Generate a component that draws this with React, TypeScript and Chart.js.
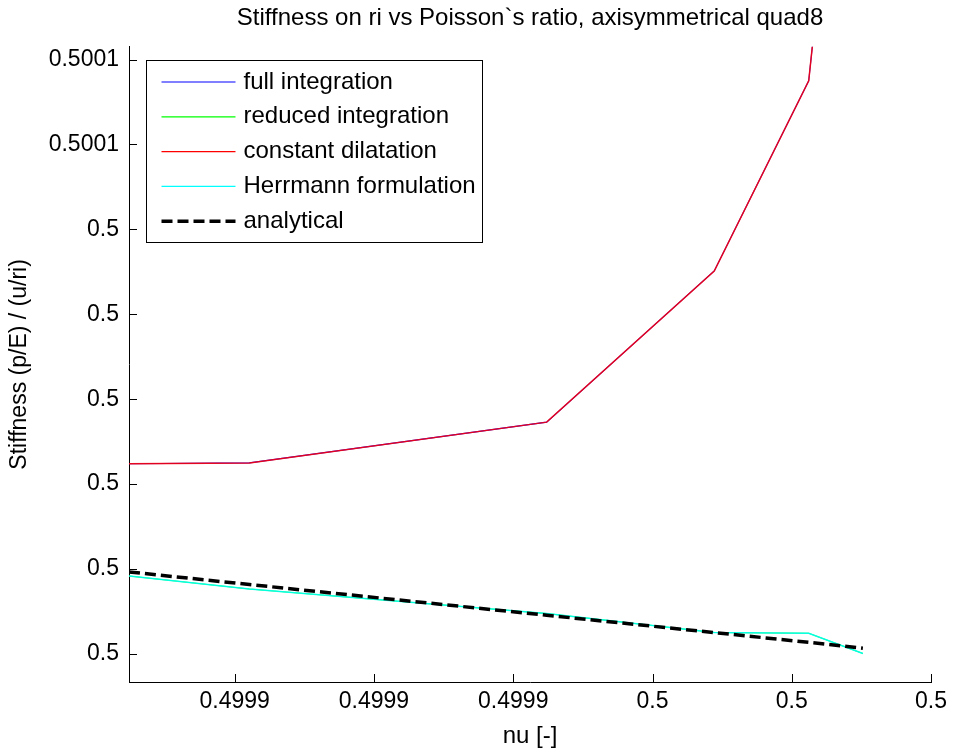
import React, { useEffect, useRef } from "react";
import { Chart, registerables } from "chart.js";

Chart.register(...registerables);

// ---- data ----
const nu = [0.499884814, 0.499902106, 0.4999448, 0.499968868, 0.499982436, 0.499990215];
const fullIntegration = [0.5000124, 0.5000125, 0.5000173, 0.5000351, 0.5000575, 0.5001179];
const reducedIntegration = [0.49999918, 0.49999765, 0.49999477, 0.49999253, 0.49999244, 0.49999006];
const constantDilatation = [0.5000124, 0.5000125, 0.5000173, 0.5000351, 0.5000575, 0.5001179];
const herrmann = [0.49999918, 0.49999765, 0.49999477, 0.49999253, 0.49999244, 0.49999006];
const analytical = [0.49999966, 0.49999818, 0.49999456, 0.49999252, 0.49999137, 0.49999067];

const seriesNames = [
  "full integration",
  "reduced integration",
  "constant dilatation",
  "Herrmann formulation",
  "analytical",
];
const seriesValues = [fullIntegration, reducedIntegration, constantDilatation, herrmann, analytical];
const legendColors = ["#0000ff", "#00ff00", "#ff0000", "#00ffff", "#000000"];
const lineColors = ["#0000ff", "#00ff00", "rgba(255,0,0,0.88)", "rgba(0,255,255,0.85)", "#000000"];

const xTickValues = [0.4999, 0.49992, 0.49994, 0.49996, 0.49998, 0.5];
const xTickLabels = ["0.4999", "0.4999", "0.4999", "0.5", "0.5", "0.5"];
const yTickValues = [0.49999, 0.5, 0.50001, 0.50002, 0.50003, 0.50004, 0.50005, 0.50006];
const yTickLabels = ["0.5", "0.5", "0.5", "0.5", "0.5", "0.5", "0.5001", "0.5001"];
const xMin = 0.499884814;
const xMax = 0.5;
const yMin = 0.4999867;
const yMax = 0.5000615;

const FONT = '"Liberation Sans", Arial, Helvetica, sans-serif';
const DASH = [11, 5];

const inwardTicks = {
  id: "inwardTicks",
  afterDraw(chart: any) {
    const { ctx, chartArea, scales } = chart;
    ctx.save();
    ctx.strokeStyle = "#000";
    ctx.lineWidth = 1;
    ctx.beginPath();
    scales.x.ticks.forEach((t: any) => {
      const px = Math.round(scales.x.getPixelForValue(t.value)) + 0.5;
      ctx.moveTo(px, chartArea.bottom);
      ctx.lineTo(px, chartArea.bottom - 8);
    });
    scales.y.ticks.forEach((t: any) => {
      const py = Math.round(scales.y.getPixelForValue(t.value)) + 0.5;
      ctx.moveTo(chartArea.left, py);
      ctx.lineTo(chartArea.left + 8, py);
    });
    ctx.stroke();
    ctx.restore();
  },
};

const boxLegend = {
  id: "boxLegend",
  afterDraw(chart: any) {
    const { ctx, chartArea } = chart;
    const left = Math.round(chartArea.left + 17) + 0.5;
    const top = Math.round(chartArea.top + 13) + 0.5;
    const w = 336;
    const h = 182;
    ctx.save();
    ctx.fillStyle = "#fff";
    ctx.fillRect(left, top, w, h);
    ctx.strokeStyle = "#000";
    ctx.lineWidth = 1;
    ctx.strokeRect(left, top, w, h);
    ctx.font = `24px ${FONT}`;
    ctx.textBaseline = "middle";
    ctx.textAlign = "left";
    seriesNames.forEach((name, i) => {
      const y = top + 21.5 + i * 34.8;
      ctx.beginPath();
      ctx.strokeStyle = legendColors[i];
      if (i === 4) {
        ctx.lineWidth = 3.5;
        ctx.setLineDash(DASH);
      } else {
        ctx.lineWidth = 1.2;
        ctx.setLineDash([]);
      }
      ctx.moveTo(left + 15, y);
      ctx.lineTo(left + 89, y);
      ctx.stroke();
      ctx.setLineDash([]);
      ctx.fillStyle = "#000";
      ctx.fillText(name, left + 97, y);
    });
    ctx.restore();
  },
};

export default function App() {
  const ref = useRef<HTMLCanvasElement | null>(null);

  useEffect(() => {
    if (!ref.current) return;
    Chart.defaults.font.family = FONT;
    const order = [5, 4, 3, 2, 1];
    const chart = new Chart(ref.current, {
      type: "line",
      data: {
        datasets: seriesNames.map((name, i) => ({
          label: name,
          data: nu.map((x, k) => ({ x, y: seriesValues[i][k] })),
          borderColor: lineColors[i],
          backgroundColor: lineColors[i],
          borderWidth: i === 4 ? 3.5 : i < 2 ? 1.1 : 1.5,
          borderDash: i === 4 ? DASH : [],
          pointRadius: 0,
          tension: 0,
          fill: false,
          order: order[i],
        })),
      },
      options: {
        animation: false,
        responsive: false,
        layout: { padding: { left: 0, right: 20, top: 0, bottom: 0 } },
        plugins: {
          legend: { display: false },
          tooltip: { enabled: false },
          title: {
            display: true,
            text: "Stiffness on ri vs Poisson`s ratio, axisymmetrical quad8",
            color: "#000",
            fullSize: false,
            font: { size: 24, weight: "normal", family: FONT },
            padding: { top: 4, bottom: 14 },
          },
        },
        scales: {
          x: {
            type: "linear",
            min: xMin,
            max: xMax,
            afterBuildTicks: (axis: any) => {
              axis.ticks = xTickValues.map((value) => ({ value }));
            },
            afterFit: (axis: any) => {
              axis.height = 67;
            },
            ticks: {
              autoSkip: false,
              maxRotation: 0,
              color: "#000",
              padding: 6,
              font: { size: 23, family: FONT },
              callback: (_v: any, i: number) => xTickLabels[i],
            },
            grid: { display: false, drawTicks: false },
            border: { display: true, color: "#000", width: 1 },
            title: {
              display: true,
              text: "nu [-]",
              color: "#000",
              font: { size: 24, family: FONT, lineHeight: 1 },
              padding: { top: 0, bottom: 0.3 },
            },
          },
          y: {
            type: "linear",
            min: yMin,
            max: yMax,
            afterBuildTicks: (axis: any) => {
              axis.ticks = yTickValues.map((value) => ({ value }));
            },
            afterFit: (axis: any) => {
              axis.width = 129;
            },
            ticks: {
              autoSkip: false,
              color: "#000",
              padding: 10,
              font: { size: 23, family: FONT },
              callback: (_v: any, i: number) => yTickLabels[i],
            },
            grid: { display: false, drawTicks: false },
            border: { display: true, color: "#000", width: 1 },
            title: {
              display: true,
              text: "Stiffness (p/E) / (u/ri)",
              color: "#000",
              font: { size: 23, family: FONT },
              padding: { top: 6, bottom: 0 },
            },
          },
        },
      },
      plugins: [inwardTicks, boxLegend],
    });
    return () => chart.destroy();
  }, []);

  return (
    <div style={{ position: "absolute", left: 0, top: 0, width: 953, height: 749, background: "#fff" }}>
      <canvas ref={ref} width={953} height={749} style={{ display: "block" }} />
    </div>
  );
}
